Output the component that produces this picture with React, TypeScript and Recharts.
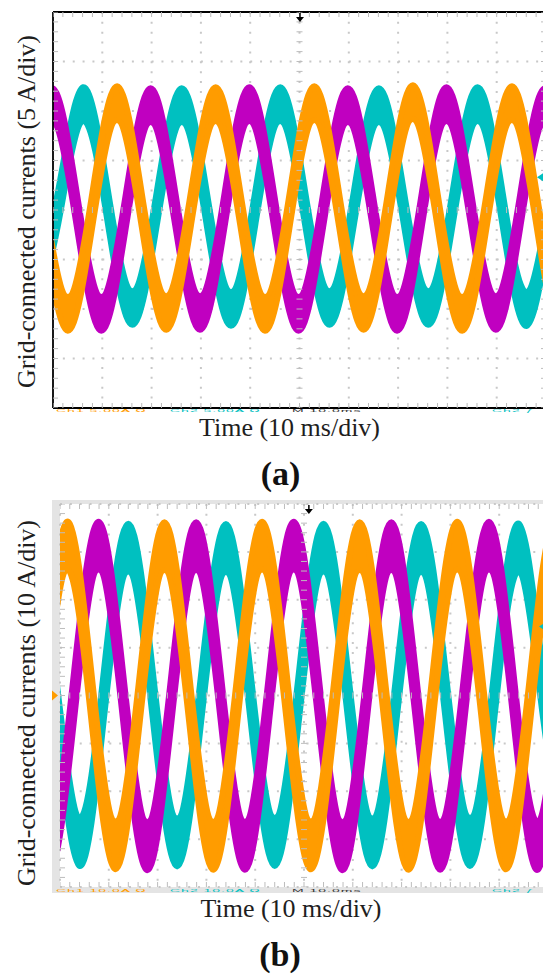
import React from 'react';
import {
  ComposedChart,
  Area,
  XAxis,
  YAxis,
  CartesianGrid,
  Scatter,
  ReferenceLine,
  ReferenceDot,
} from 'recharts';

type Pt = [number, number];

// ---------- Panel (a): 5 A/div, 10 ms/div. Key points [time ms, current A] ----------
const aOrange: Pt[] = [[-2.0,0.2],[3.0,-10.5],[8.0,0.1],[13.0,10.8],[18.0,0.0],[23.0,-10.4],[28.0,0.2],[33.0,10.7],[38.0,0.1],[43.0,-10.5],[48.0,0.0],[53.0,10.8],[58.0,0.1],[63.0,-10.4],[68.0,0.2],[73.0,10.9],[78.0,0.0],[83.0,-10.5],[88.0,0.1],[93.1,10.8],[98.1,0.0],[103.1,-10.4],[108.1,0.1]];
const aMagenta: Pt[] = [[-5.2,0.0],[-0.2,10.6],[4.8,0.1],[9.8,-10.5],[14.8,0.0],[19.8,10.6],[24.8,0.1],[29.8,-10.4],[34.8,0.0],[39.8,10.7],[44.8,0.1],[49.8,-10.5],[54.8,0.0],[59.8,10.6],[64.8,0.1],[69.8,-10.5],[74.8,0.0],[79.8,10.7],[84.8,0.1],[89.8,-10.4],[94.8,0.0],[99.8,10.6],[104.8,0.0]];
const aCyan: Pt[] = [[-3.9,-9.9],[1.1,0.4],[6.1,10.7],[11.1,0.4],[16.1,-9.9],[21.1,0.3],[26.1,10.6],[31.1,0.4],[36.1,-10.0],[41.1,0.4],[46.1,10.7],[51.1,0.3],[56.1,-9.9],[61.1,0.4],[66.1,10.6],[71.1,0.4],[76.1,-9.9],[81.1,0.3],[86.1,10.7],[91.1,0.4],[96.1,-10.0],[101.1,0.4],[106.1,10.6]];
const aRipple = 1.7; // half width of the noisy band (A)

// ---------- Panel (b): 10 A/div, 10 ms/div ----------
const bOrange: Pt[] = [[-8.6,-31.0],[-3.6,0.0],[1.4,31.3],[6.4,0.1],[11.4,-31.3],[16.4,0.0],[21.4,31.2],[26.4,0.1],[31.4,-31.4],[36.4,0.0],[41.4,31.3],[46.4,0.1],[51.4,-31.3],[56.4,0.0],[61.4,31.2],[66.4,0.1],[71.4,-31.4],[76.4,0.0],[81.4,31.3],[86.4,0.1],[91.4,-31.3],[96.4,0.0],[101.4,31.2],[106.4,0.0]];
const bMagenta: Pt[] = [[-7.1,0.0],[-2.1,-31.4],[2.9,0.1],[7.9,31.3],[12.9,0.0],[17.9,-31.5],[22.9,0.1],[27.9,31.2],[32.9,0.0],[37.9,-31.4],[42.9,0.1],[47.9,31.3],[52.9,0.0],[57.9,-31.5],[62.9,0.1],[67.9,31.2],[72.9,0.0],[77.9,-31.4],[82.9,0.1],[87.9,31.3],[92.9,0.0],[97.9,-31.4],[102.9,0.1],[107.9,31.2]];
const bCyan: Pt[] = [[-6.0,30.9],[-1.0,0.2],[4.0,-30.6],[9.0,0.2],[14.0,30.9],[19.0,0.2],[24.0,-30.7],[29.0,0.2],[34.0,30.8],[39.0,0.2],[44.0,-30.6],[49.0,0.2],[54.0,30.9],[59.0,0.2],[64.0,-30.7],[69.0,0.2],[74.0,30.8],[79.0,0.2],[84.0,-30.6],[89.0,0.2],[94.0,30.9],[99.0,0.2],[104.0,-30.7]];
const bRipple = 5.0;

// markers (A)
const aCyanLevel = 3.3;
const bCyanLevel = 14.4;

// axis / text
const gridTimes = [10, 20, 30, 40, 50, 60, 70, 80, 90];
const minorTimes = Array.from({ length: 51 }, (_, i) => i * 2);
const yLabelA = 'Grid-connected currents (5 A/div)';
const yLabelB = 'Grid-connected currents (10 A/div)';
const xLabel = 'Time (10 ms/div)';
// oscilloscope read-out line, cut off at the bottom of each screenshot
const readoutA = ['Ch1  5.00A Ω', 'Ch2  5.00A Ω', 'M 10.0ms', 'Ch2 ƒ'];
const readoutB = ['Ch1  10.0A Ω', 'Ch2  10.0A Ω', 'M 10.0ms', 'Ch2 ƒ'];

const ORANGE = '#ff9c00';
const MAGENTA = '#c000c0';
const CYAN = '#00c0c0';
const TICK = '#bdbdbd';

const band = (pts: Pt[], h: number) => pts.map(([t, i]) => ({ t, r: [i - h, i + h] }));

const tickShape = (dx1: number, dy1: number, dx2: number, dy2: number) => (p: any) => (
  <line x1={p.cx + dx1} y1={p.cy + dy1} x2={p.cx + dx2} y2={p.cy + dy2} stroke={TICK} strokeWidth={1} />
);

const arrowShape = (p: any) => (
  <g>
    <line x1={p.cx} y1={p.cy + 1} x2={p.cx} y2={p.cy + 6} stroke="#000" strokeWidth={1.5} />
    <polygon points={`${p.cx - 4},${p.cy + 5} ${p.cx + 4},${p.cy + 5} ${p.cx},${p.cy + 10}`} fill="#000" />
  </g>
);
const leftTriShape = (p: any) => (
  <polygon points={`${p.cx - 9},${p.cy} ${p.cx},${p.cy - 6} ${p.cx},${p.cy + 6}`} fill={CYAN} />
);
const rightTriShape = (p: any) => (
  <polygon points={`${p.cx - 8},${p.cy - 5} ${p.cx - 8},${p.cy + 5} ${p.cx - 2},${p.cy}`} fill={ORANGE} />
);

function Scope(props: {
  height: number;
  margin: any;
  yMax: number;
  div: number;
  orange: Pt[];
  magenta: Pt[];
  cyan: Pt[];
  ripple: number;
  black: boolean;
  cyanLevel: number;
  orangeMarker: boolean;
  trigT: number;
}) {
  const { yMax, div } = props;
  const gridV: number[] = [];
  for (let v = -yMax + div; v < yMax; v += div) gridV.push(v);
  const minorV: number[] = [];
  for (let k = 0; k <= 40; k++) minorV.push(-yMax + (k * div) / 5);
  const top = minorTimes.map((t) => ({ t, v: yMax }));
  const bottom = minorTimes.map((t) => ({ t, v: -yMax }));
  const midH = minorTimes.map((t) => ({ t, v: 0 }));
  const left = minorV.map((v) => ({ t: 0, v }));
  const right = minorV.map((v) => ({ t: 100, v }));
  const midV = minorV.map((v) => ({ t: 50, v }));
  const sw = 6;
  return (
    <ComposedChart width={560} height={props.height} margin={props.margin}>
      <CartesianGrid
        stroke="#c8c8c8"
        strokeWidth={2}
        strokeDasharray="2 7.86"
        fill="#ffffff"
        fillOpacity={1}
      />
      <XAxis type="number" dataKey="t" domain={[0, 100]} ticks={gridTimes} hide allowDataOverflow />
      <YAxis type="number" dataKey="v" domain={[-yMax, yMax]} ticks={gridV} hide allowDataOverflow />
      <Scatter data={top} shape={tickShape(0, 0, 0, 5)} isAnimationActive={false} />
      <Scatter data={bottom} shape={tickShape(0, -5, 0, 0)} isAnimationActive={false} />
      <Scatter data={midH} shape={tickShape(0, -3, 0, 3)} isAnimationActive={false} />
      <Scatter data={left} shape={tickShape(0, 0, 5, 0)} isAnimationActive={false} />
      <Scatter data={right} shape={tickShape(-5, 0, 0, 0)} isAnimationActive={false} />
      <Scatter data={midV} shape={tickShape(-3, 0, 3, 0)} isAnimationActive={false} />
      <Area data={band(props.cyan, props.ripple)} dataKey="r" type="natural" stroke={CYAN} strokeWidth={sw} fill={CYAN} fillOpacity={1} isAnimationActive={false} strokeLinejoin="round" />
      <Area data={band(props.magenta, props.ripple)} dataKey="r" type="natural" stroke={MAGENTA} strokeWidth={sw} fill={MAGENTA} fillOpacity={1} isAnimationActive={false} strokeLinejoin="round" />
      <Area data={band(props.orange, props.ripple)} dataKey="r" type="natural" stroke={ORANGE} strokeWidth={sw} fill={ORANGE} fillOpacity={1} isAnimationActive={false} strokeLinejoin="round" />
      {props.black && <ReferenceLine x={0} stroke="#000" strokeWidth={1.8} />}
      {props.black && <ReferenceLine y={yMax} stroke="#000" strokeWidth={1.8} />}
      {props.black && <ReferenceLine y={-yMax} stroke="#000" strokeWidth={1.8} />}
      <ReferenceDot x={props.trigT} y={yMax} ifOverflow="visible" shape={arrowShape} />
      <ReferenceDot x={100} y={props.cyanLevel} ifOverflow="visible" shape={leftTriShape} />
      {props.orangeMarker && <ReferenceDot x={0} y={0} ifOverflow="visible" shape={rightTriShape} />}
    </ComposedChart>
  );
}

const serif = '"Liberation Serif", "Times New Roman", serif';
const sans = '"Liberation Sans", Arial, sans-serif';

// squashed, cut-off read-out line (only a thin sliver is visible in the reference)
function Readout({ y, texts }: { y: number; texts: string[] }) {
  const xs = [56, 170, 292, 492];
  const cols = [ORANGE, CYAN, '#333', CYAN];
  return (
    <g>
      {texts.map((s, i) => (
        <g key={i} transform={`translate(${xs[i]},${y}) scale(1,0.24)`}>
          <text x={0} y={12.5} fontFamily={sans} fontSize={14} fill={cols[i]} letterSpacing={1}>
            {s}
          </text>
        </g>
      ))}
    </g>
  );
}

export default function App() {
  return (
    <div
      style={{
        position: 'absolute',
        left: 0,
        top: 0,
        width: 543,
        height: 976,
        overflow: 'hidden',
        background: '#fff',
      }}
    >
      <div style={{ position: 'absolute', left: 0, top: 0 }}>
        <Scope
          height={420}
          margin={{ top: 12, left: 53, right: 14, bottom: 12 }}
          yMax={20}
          div={5}
          orange={aOrange}
          magenta={aMagenta}
          cyan={aCyan}
          ripple={aRipple}
          black={true}
          cyanLevel={aCyanLevel}
          orangeMarker={false}
          trigT={50.1}
        />
      </div>
      <div style={{ position: 'absolute', left: 52, top: 500, width: 508, height: 393, background: '#e4e4e4' }} />
      <div style={{ position: 'absolute', left: 0, top: 492 }}>
        <Scope
          height={407}
          margin={{ top: 12, left: 60, right: 12, bottom: 12 }}
          yMax={40}
          div={10}
          orange={bOrange}
          magenta={bMagenta}
          cyan={bCyan}
          ripple={bRipple}
          black={false}
          cyanLevel={bCyanLevel}
          orangeMarker={true}
          trigT={51.0}
        />
      </div>
      <svg
        width={543}
        height={976}
        style={{ position: 'absolute', left: 0, top: 0, pointerEvents: 'none' }}
      >
        <Readout y={408.6} texts={readoutA} />
        <Readout y={889.4} texts={readoutB} />
        <text transform="translate(35,211.5) rotate(-90)" textAnchor="middle" fontFamily={serif} fontSize={26} fill="#1e1e1e">
          {yLabelA}
        </text>
        <text x={289.5} y={436} textAnchor="middle" fontFamily={serif} fontSize={26} fill="#1e1e1e">
          {xLabel}
        </text>
        <text x={280.5} y={485} textAnchor="middle" fontFamily={serif} fontSize={34} fontWeight="bold" fill="#111">
          (a)
        </text>
        <text transform="translate(35,703) rotate(-90)" textAnchor="middle" fontFamily={serif} fontSize={26} fill="#1e1e1e">
          {yLabelB}
        </text>
        <text x={291} y={917} textAnchor="middle" fontFamily={serif} fontSize={26} fill="#1e1e1e">
          {xLabel}
        </text>
        <text x={280} y={966} textAnchor="middle" fontFamily={serif} fontSize={34} fontWeight="bold" fill="#111">
          (b)
        </text>
      </svg>
    </div>
  );
}
